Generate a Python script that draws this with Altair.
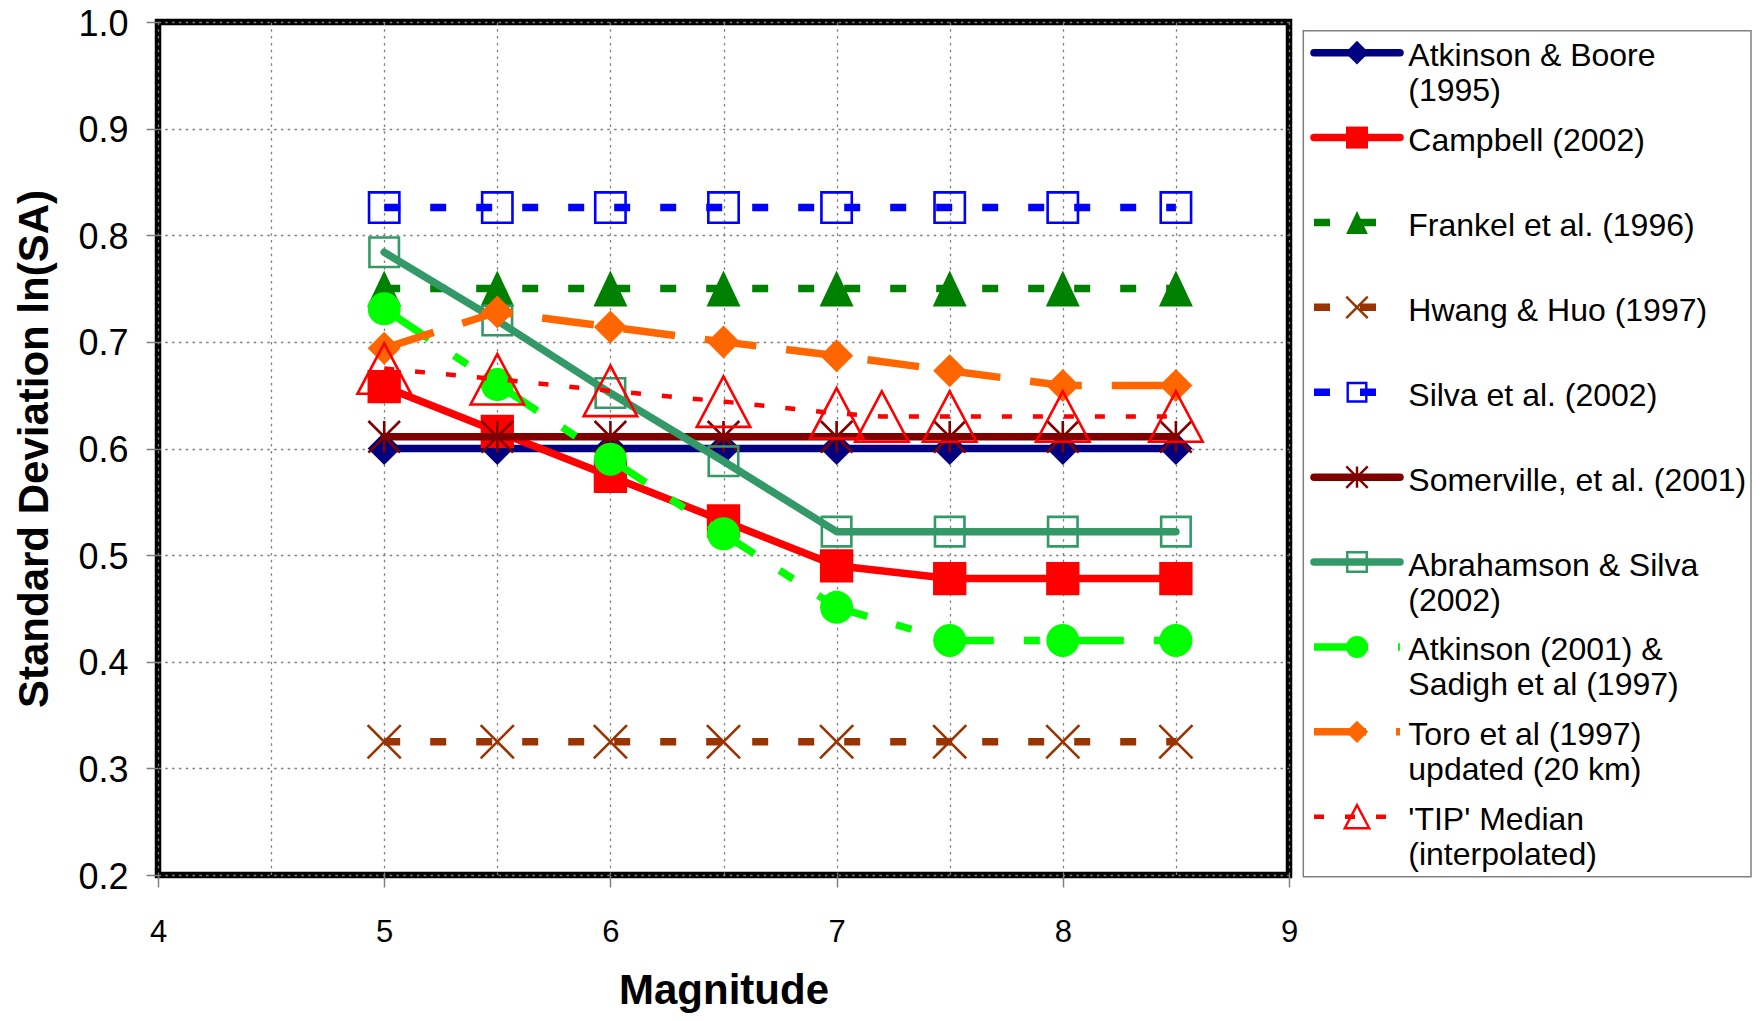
import altair as alt
import pandas as pd

# ---------------- data ----------------
magnitude = [5.0, 5.5, 6.0, 6.5, 7.0, 7.5, 8.0, 8.5]
atkinson_boore_1995 = [0.600, 0.600, 0.600, 0.600, 0.600, 0.600, 0.600, 0.600]
campbell_2002 = [0.658, 0.616, 0.574, 0.532, 0.490, 0.478, 0.478, 0.478]
frankel_1996 = [0.750, 0.750, 0.750, 0.750, 0.750, 0.750, 0.750, 0.750]
hwang_huo_1997 = [0.325, 0.325, 0.325, 0.325, 0.325, 0.325, 0.325, 0.325]
silva_2002 = [0.826, 0.826, 0.826, 0.826, 0.826, 0.826, 0.826, 0.826]
somerville_2001 = [0.611, 0.611, 0.611, 0.611, 0.611, 0.611, 0.611, 0.611]
abrahamson_silva_2002 = [0.784, 0.720, 0.652, 0.588, 0.522, 0.522, 0.522, 0.522]
atkinson_sadigh = [0.731, 0.660, 0.590, 0.520, 0.451, 0.420, 0.420, 0.420]
toro_1997 = [0.694, 0.728, 0.714, 0.700, 0.687, 0.673, 0.659, 0.659]
tip_magnitude = [5.0, 5.5, 6.0, 6.5, 7.0, 7.2, 7.5, 8.0, 8.5]
tip_median = [0.675, 0.665, 0.654, 0.644, 0.633, 0.630, 0.630, 0.630, 0.630]

labels = [
    "Atkinson & Boore\n(1995)",
    "Campbell (2002)",
    "Frankel et al. (1996)",
    "Hwang & Huo (1997)",
    "Silva et al. (2002)",
    "Somerville, et al. (2001)",
    "Abrahamson & Silva\n(2002)",
    "Atkinson (2001) &\nSadigh et al (1997)",
    "Toro et al (1997)\nupdated (20 km)",
    "'TIP' Median\n(interpolated)",
]
x_ticks = [4, 4.5, 5, 5.5, 6, 6.5, 7, 7.5, 8, 8.5, 9]
y_ticks = [0.2, 0.3, 0.4, 0.5, 0.6, 0.7, 0.8, 0.9, 1.0]

# ---------------- styles ----------------
FONT = "Liberation Sans"
W, H = 1131, 853
TRI = "M0,-1L0.944,1L-0.944,1Z"
TIP_TRI = "M0,-0.944L1,0.944L-1,0.944Z"
XMARK = "M-1,-1L1,1M1,-1L-1,1"
STAR = "M-1,-1L1,1M1,-1L-1,1M0,-1L0,1"

series = [
    (magnitude, atkinson_boore_1995,
     dict(color="#000080", dash=None, width=7.5, shape="diamond", size=1089, filled=True, lsize=560)),
    (magnitude, campbell_2002,
     dict(color="#FF0000", dash=None, width=7.5, shape="square", size=1110, filled=True, lsize=484)),
    (magnitude, frankel_1996,
     dict(color="#008000", dash=[16, 30], width=7.5, shape=TRI, size=1296, filled=True, lsize=529)),
    (magnitude, hwang_huo_1997,
     dict(color="#993300", dash=[16, 30], width=7.5, shape=XMARK, size=1100, filled=False, lsize=460)),
    (magnitude, silva_2002,
     dict(color="#0000FF", dash=[16, 30], width=7.5, shape="square", size=920, filled=False, lsize=345)),
    (magnitude, somerville_2001,
     dict(color="#800000", dash=None, width=7.5, shape=STAR, size=1000, filled=False, lsize=460)),
    (magnitude, abrahamson_silva_2002,
     dict(color="#339966", dash=None, width=7.5, shape="square", size=870, filled=False, lsize=380)),
    (magnitude, atkinson_sadigh,
     dict(color="#00FF00", dash=[54, 30, 16, 30], width=7.5, shape="circle", size=1089, filled=True, lsize=484)),
    (magnitude, toro_1997,
     dict(color="#FF6600", dash=[52, 30], width=7.5, shape="diamond", size=1089, filled=True, lsize=500)),
    (tip_magnitude, tip_median,
     dict(color="#FF0000", dash=[10, 21], width=4.5, shape=TIP_TRI, size=2860, filled=False, lsize=600)),
]

x_scale = alt.Scale(domain=[4, 9], nice=False, zero=False)
y_scale = alt.Scale(domain=[0.2, 1.0], nice=False, zero=False)

common_axis = dict(
    domain=False, grid=True, gridColor="#808080", gridDash=[2.5, 4.3], gridWidth=1.3,
    tickColor="#808080", tickWidth=1.5, tickSize=12,
    labelFont=FONT, labelColor="black", titleFont=FONT, titleColor="black",
    titleFontWeight="bold", titleFontSize=42, labelFlush=False, labelOverlap=False,
)
x_axis = alt.Axis(
    title="Magnitude", values=x_ticks,
    labelExpr="datum.value % 1 === 0 ? format(datum.value, 'd') : ''",
    tickOpacity={"condition": {"test": "datum.value % 1 !== 0", "value": 0}, "value": 1},
    labelFontSize=31, labelPadding=30.7, labelBaseline="top",
    titleX=W / 2, titleY=128.5, titleAlign="center", titleBaseline="alphabetic",
    **common_axis,
)
y_axis = alt.Axis(
    title="Standard Deviation ln(SA)", values=y_ticks, format=".1f",
    labelFontSize=36, labelPadding=18, labelOffset=2,
    titleAngle=270, titleX=-110.3, titleY=H / 2, titleAlign="center", titleBaseline="alphabetic",
    **common_axis,
)

main_layers = []
for xs, ys, st in series:
    df = pd.DataFrame({"Magnitude": xs, "SD": ys})
    enc = dict(
        x=alt.X("Magnitude:Q", scale=x_scale, axis=x_axis),
        y=alt.Y("SD:Q", scale=y_scale, axis=y_axis),
    )
    lk = dict(color=st["color"], strokeWidth=st["width"], strokeJoin="round",
              strokeCap="butt" if st["dash"] else "round")
    if st["dash"]:
        lk["strokeDash"] = st["dash"]
    main_layers.append(alt.Chart(df).mark_line(**lk).encode(**enc))
    pk = dict(shape=st["shape"], size=st["size"], filled=st["filled"], color=st["color"], opacity=1)
    if not st["filled"]:
        pk["strokeWidth"] = 2.6
    main_layers.append(alt.Chart(df).mark_point(**pk).encode(**enc))

main = alt.layer(*main_layers)

# ---------------- legend ----------------
lx_scale = alt.Scale(domain=[0, 1], range=[1156, 1242], nice=False, zero=False)
ly_scale = alt.Scale(domain=[0, 9], range=[30.7, 794.7], nice=False, zero=False)

frame = alt.Chart(pd.DataFrame({"k": [0]})).mark_rect(
    fill="white", fillOpacity=0, stroke="#808080", strokeWidth=1.5
).encode(x=alt.value(1145.3), x2=alt.value(1593), y=alt.value(8.7), y2=alt.value(854.7))

legend_layers = [frame]
for i, (xs, ys, st) in enumerate(series):
    ldf = pd.DataFrame({"lx": [0, 1], "ly": [i, i]})
    enc = dict(x=alt.X("lx:Q", scale=lx_scale, axis=None), y=alt.Y("ly:Q", scale=ly_scale, axis=None))
    lk = dict(color=st["color"], strokeWidth=st["width"],
              strokeCap="butt" if st["dash"] else "round")
    if st["dash"]:
        lk["strokeDash"] = st["dash"]
    legend_layers.append(alt.Chart(ldf).mark_line(**lk).encode(**enc))
    pdf = pd.DataFrame({"lx": [0.5], "ly": [i]})
    pk = dict(shape=st["shape"], size=st["lsize"], filled=st["filled"], color=st["color"], opacity=1)
    if not st["filled"]:
        pk["strokeWidth"] = 2.4
    legend_layers.append(alt.Chart(pdf).mark_point(**pk).encode(**enc))

tdf = pd.DataFrame({"lx": [1.0965] * len(labels), "ly": list(range(len(labels))), "label": labels})
legend_layers.append(
    alt.Chart(tdf).mark_text(
        align="left", baseline="alphabetic", dy=13.5, font=FONT, fontSize=32,
        lineBreak="\n", lineHeight=35, color="black",
    ).encode(
        x=alt.X("lx:Q", scale=lx_scale, axis=None),
        y=alt.Y("ly:Q", scale=ly_scale, axis=None),
        text="label:N",
    )
)
legend = alt.layer(*legend_layers)

chart = (
    alt.layer(main, legend)
    .resolve_scale(x="independent", y="independent")
    .properties(
        width=W, height=H,
        autosize=alt.AutoSizeParams(type="none"),
        padding={"left": 150, "top": 14, "right": 463, "bottom": 138},
        background="white",
    )
    .configure_view(stroke="black", strokeWidth=6.5)
)

chart.save("out.html", embed_options={"renderer": "svg", "actions": False})
